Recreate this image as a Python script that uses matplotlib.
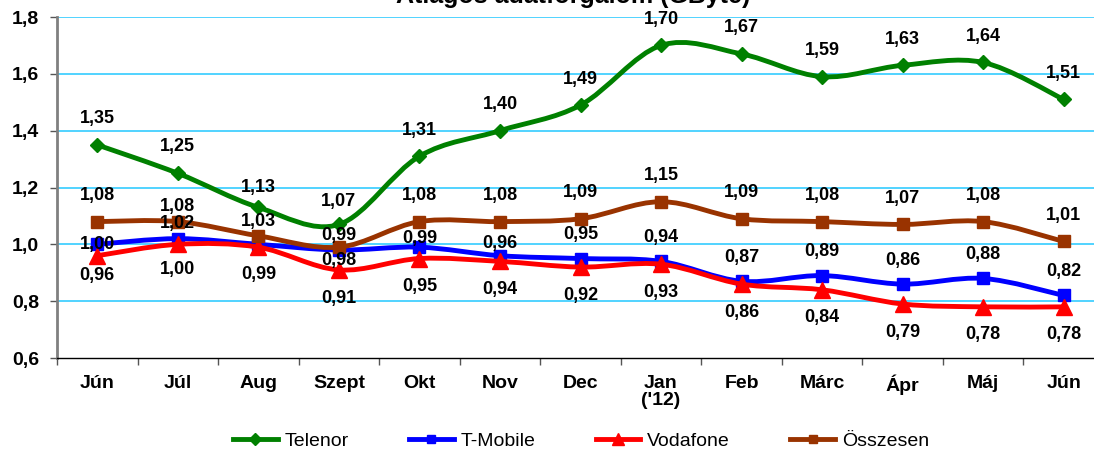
# -*- coding: utf-8 -*-
import numpy as np
import matplotlib
matplotlib.use('Agg')
import matplotlib.pyplot as plt
from matplotlib.path import Path
from matplotlib.patches import PathPatch
from matplotlib.lines import Line2D

#------------------------------------------------------------------------------
# Data
#------------------------------------------------------------------------------
months = ['Jún', 'Júl', 'Aug', 'Szept', 'Okt', 'Nov', 'Dec', "Jan\n('12)",
          'Feb', 'Márc', 'Ápr', 'Máj', 'Jún']

telenor  = [1.35, 1.25, 1.13, 1.07, 1.31, 1.40, 1.49, 1.70, 1.67, 1.59, 1.63, 1.64, 1.51]
tmobile  = [1.00, 1.02, 1.00, 0.98, 0.99, 0.96, 0.95, 0.94, 0.87, 0.89, 0.86, 0.88, 0.82]
vodafone = [0.96, 1.00, 0.99, 0.91, 0.95, 0.94, 0.92, 0.93, 0.86, 0.84, 0.79, 0.78, 0.78]
osszesen = [1.08, 1.08, 1.03, 0.99, 1.08, 1.08, 1.09, 1.15, 1.09, 1.08, 1.07, 1.08, 1.01]

# which points carry a value label (T-Mobile Aug is hidden in the original)
tmobile_show = [True, True, False] + [True] * 10

#------------------------------------------------------------------------------
# Styles
#------------------------------------------------------------------------------
plt.rcParams['font.family'] = ['Liberation Sans', 'DejaVu Sans']

# label offsets in pixels (positive = above the point)
off_tel = [26, 27, 20, 23] + [26] * 9
off_tmo = [0, 15, 0, -10, 9, 12] + [24] * 7
off_vod = [-20, -25, -27, -29] + [-28] * 9
off_oss = [26, 15, 14, 12] + [26] * 9

series = [
    # name,      values,   colour,    marker, ms,   z,  offsets, show
    ('T-Mobile', tmobile,  '#0000FF', 's',    8.5,  3, off_tmo, tmobile_show),
    ('Vodafone', vodafone, '#FF0000', '^',    12,   4, off_vod, None),
    ('Összesen', osszesen, '#993300', 's',    8.5,  5, off_oss, None),
    ('Telenor',  telenor,  '#008000', 'D',    7.5,  6, off_tel, None),
]
legend_order = ['Telenor', 'T-Mobile', 'Vodafone', 'Összesen']


def smooth_path(x, y):
    """Catmull-Rom spline through the data points as cubic Bezier segments."""
    pts = np.column_stack([x, y]).astype(float)
    n = len(pts)
    verts = [pts[0]]
    codes = [Path.MOVETO]
    for i in range(n - 1):
        p0 = pts[max(i - 1, 0)]
        p1 = pts[i]
        p2 = pts[i + 1]
        p3 = pts[min(i + 2, n - 1)]
        c1 = p1 + (p2 - p0) / 6.0
        c2 = p2 - (p3 - p1) / 6.0
        verts += [c1, c2, p2]
        codes += [Path.CURVE4] * 3
    return Path(verts, codes)


W, H = 1094, 454
fig = plt.figure(figsize=(W / 100, H / 100), dpi=100)
ax = fig.add_axes([57 / W, 96 / H, 1047 / W, 341 / H])

x = np.arange(len(months))
handles = {}
for name, vals, col, mk, ms, z, offs, show in series:
    ax.add_patch(PathPatch(smooth_path(x, vals), facecolor='none',
                           edgecolor=col, lw=3.5, zorder=z, capstyle='round',
                           joinstyle='round'))
    ax.plot(x, vals, ls='none', marker=mk, ms=ms, color=col, mec=col, zorder=z)
    handles[name] = Line2D([], [], color=col, lw=3.5, marker=mk, ms=ms * 0.75, mec=col)
    for i, v in enumerate(vals):
        if show is not None and not show[i]:
            continue
        ax.annotate(('%.2f' % v).replace('.', ','), (x[i], v),
                    xytext=(0, offs[i]), textcoords='offset pixels',
                    ha='center', va='center', fontsize=13, fontweight='bold',
                    color='black', zorder=10)

# axes
ax.set_xlim(-0.5, len(months) - 0.5)
ax.set_ylim(0.6, 1.8)
yt = np.arange(0.6, 1.81, 0.2)
ax.set_yticks(yt)
ax.set_yticklabels([('%.1f' % t).replace('.', ',') for t in yt],
                   fontsize=14, fontweight='bold')
for t in yt[1:]:
    ax.axhline(t, color='#33CCFF', lw=1.2, zorder=1)

ax.set_xticks(x)
ax.set_xticklabels(months, fontsize=14, fontweight='bold', linespacing=1.05)
ax.set_xticks(np.arange(-0.5, len(months), 1), minor=True)
ax.tick_params(axis='x', which='major', length=0, pad=12)
ax.tick_params(axis='x', which='minor', length=5, width=1, color='#555555')
ax.tick_params(axis='y', length=5, width=1, pad=8, color='#555555')

ax.spines['top'].set_visible(False)
ax.spines['right'].set_visible(False)
ax.spines['left'].set_color('#808080')
ax.spines['left'].set_linewidth(2)
ax.spines['bottom'].set_color('black')
ax.spines['bottom'].set_linewidth(1)

# title, mostly cut off at the top of the picture
fig.text(573 / W, 1 - 3 / H, 'Átlagos adatforgalom (GByte)', ha='center',
         va='baseline', fontsize=18, fontweight='bold')

fig.legend([handles[n] for n in legend_order], legend_order, loc='center',
           bbox_to_anchor=(581 / W, 1 - 441 / H), ncol=4, frameon=False,
           fontsize=14, handlelength=2.3, handletextpad=0.35, columnspacing=3.1)

fig.savefig('out.png', dpi=100)
